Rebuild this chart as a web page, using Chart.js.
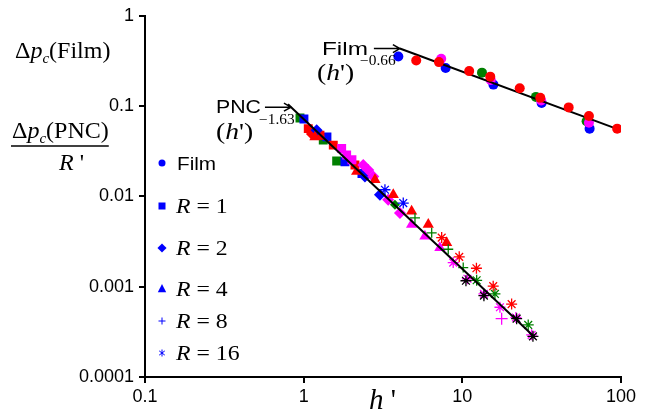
<!DOCTYPE html>
<html>
<head>
<meta charset="utf-8">
<style>
  html, body { margin: 0; padding: 0; background: #fff; }
  #wrap { width: 657px; height: 416px; position: relative; }
</style>
<script src="https://cdn.jsdelivr.net/npm/chart.js"></script>
</head>
<body>
<div id="wrap"><canvas id="chart"></canvas></div>
<script>
// axis ticks
const xTicks = [0.1, 1, 10, 100];
const yTicks = [0.0001, 0.001, 0.01, 0.1, 1];

// Film data, circles [h', dp]
const filmBlue = [[3.95, 0.354], [7.85, 0.264], [15.7, 0.173], [31.6, 0.108], [63.4, 0.0563]];
const filmRed = [[5.12, 0.320], [7.12, 0.307], [11.05, 0.244], [15.0, 0.212], [23.0, 0.1577], [31.0, 0.1234], [46.8, 0.0968], [62.8, 0.0777], [94.6, 0.0563]];
const filmMagenta = [[7.36, 0.334], [15.1, 0.1945], [31.4, 0.1155], [62.8, 0.0655]];
const filmGreen = [[13.3, 0.2346], [29.1, 0.1265], [60.7, 0.0679]];

// PNC data, R = 1 (squares)
const r1Green = [[0.948, 0.0738], [1.329, 0.0420], [1.614, 0.0247]];
const r1Blue = [[1.004, 0.0720], [1.402, 0.0456], [1.821, 0.0242], [2.33, 0.0179]];
const r1Red = [[1.069, 0.0563], [1.267, 0.0476], [1.537, 0.0370], [2.105, 0.0223]];
const r1Magenta = [[1.736, 0.0339], [1.866, 0.0287], [2.015, 0.0255]];

// R = 2 (diamonds)
const r2Red = [[1.128, 0.0492]];
const r2Blue = [[1.208, 0.0541], [2.434, 0.0166], [3.026, 0.01044]];
const r2Magenta = [[2.375, 0.0223], [2.553, 0.01965], [2.746, 0.0166], [3.41, 0.0092], [4.045, 0.00655]];
const r2Green = [[3.76, 0.0081]];

// R = 4 (triangles)
const r4Red = [[1.178, 0.0456], [2.158, 0.01882], [2.814, 0.01526], [3.67, 0.01044], [4.79, 0.00684], [6.10, 0.00489], [7.96, 0.00307]];
const r4Magenta = [[4.79, 0.00489], [5.81, 0.00363], [7.22, 0.0027]];

// R = 8 (plus)
const r8Green = [[5.03, 0.00577], [6.41, 0.00395], [8.15, 0.00260], [10.13, 0.00163]];
const r8Magenta = [[17.69, 0.000442]];

// R = 16 (stars)
const r16Blue = [[3.253, 0.01185], [4.243, 0.00844]];
const r16Red = [[7.41, 0.0035], [9.56, 0.00214], [12.27, 0.0016], [15.65, 0.001013], [20.45, 0.000642]];
const r16Magenta = [[8.76, 0.00185], [10.77, 0.001224], [13.68, 0.000831], [17.26, 0.000592], [21.77, 0.000456], [27.33, 0.000293]];
const r16Green = [[12.31, 0.001178], [16.05, 0.000831], [26.02, 0.000377]];
const r16Black = [[10.54, 0.001164], [13.68, 0.000796], [21.99, 0.000442], [27.86, 0.000282]];

// power-law fit lines (end points)
const filmFitH = [4.04, 94.2];
const filmFitP = [0.434, 0.0559];
const pncFitH = [0.796, 28.6];
const pncFitP = [0.105, 0.000275];

const legendItems = [
  ['circle', 'Film'],
  ['rect', '1'],
  ['rectRot', '2'],
  ['triangle', '4'],
  ['cross', '8'],
  ['star', '16']
];

const BLUE = '#0000ff', RED = '#ff0000', MAGENTA = '#ff00ff', GREEN = '#008000', BLACK = '#000000';
const SERIF = '"Liberation Serif", "Times New Roman", serif';
const SANS = '"Liberation Sans", Arial, sans-serif';

function pts(arr) {
  return arr.map(p => ({ x: p[0], y: p[1] }));
}

function markers(arr, style, color, r) {
  const line = style === 'cross' || style === 'star';
  return {
    data: pts(arr),
    pointStyle: style,
    pointRadius: r,
    backgroundColor: color,
    borderColor: color,
    pointBorderWidth: line ? 1.3 : 0,
    showLine: false
  };
}

function fitLine(hs, ps) {
  return {
    type: 'line',
    data: pts(hs.map((h, i) => [h, ps[i]])),
    borderColor: BLACK,
    borderWidth: 2,
    pointRadius: 0,
    showLine: true,
    fill: false
  };
}

const datasets = [
  fitLine(pncFitH, pncFitP),
  markers(r16Black, 'star', BLACK, 5.5),
  markers(r16Magenta, 'star', MAGENTA, 5.5),
  markers(r16Green, 'star', GREEN, 5.5),
  markers(r16Red, 'star', RED, 5.5),
  markers(r16Blue, 'star', BLUE, 5.5),
  markers(r8Magenta, 'cross', MAGENTA, 6),
  markers(r8Green, 'cross', GREEN, 5),
  markers(r4Magenta, 'triangle', MAGENTA, 6.5),
  markers(r4Red, 'triangle', RED, 6.5),
  markers(r2Magenta, 'rectRot', MAGENTA, 6),
  markers(r2Blue, 'rectRot', BLUE, 6),
  markers(r2Green, 'rectRot', GREEN, 5),
  markers(r2Red, 'rectRot', RED, 6),
  markers(r1Magenta, 'rect', MAGENTA, 6.3),
  markers(r1Red, 'rect', RED, 6.3),
  markers(r1Blue, 'rect', BLUE, 6.3),
  markers(r1Green, 'rect', GREEN, 6.3),
  markers(filmRed, 'circle', RED, 5),
  fitLine(filmFitH, filmFitP),
  markers(filmMagenta, 'circle', MAGENTA, 5),
  markers(filmGreen, 'circle', GREEN, 5),
  markers(filmBlue, 'circle', BLUE, 5)
];

// write text pieces one after another: [text, font, dy], sx = horizontal stretch
function runs(ctx, x, y, parts, sx) {
  sx = sx || 1;
  for (const [t, f, dy] of parts) {
    ctx.font = f;
    ctx.save();
    ctx.translate(x, y + (dy || 0));
    ctx.scale(sx, 1);
    ctx.fillText(t, 0, 0);
    ctx.restore();
    x += ctx.measureText(t).width * sx;
  }
  return x;
}

function drawMarker(ctx, style, x, y, r, color) {
  ctx.save();
  ctx.fillStyle = color;
  ctx.strokeStyle = color;
  ctx.lineWidth = 1;
  ctx.beginPath();
  if (style === 'circle') {
    ctx.arc(x, y, r, 0, Math.PI * 2);
    ctx.fill();
  } else if (style === 'rect') {
    ctx.fillRect(x - r, y - r, 2 * r, 2 * r);
  } else if (style === 'rectRot') {
    ctx.moveTo(x, y - r * 1.3); ctx.lineTo(x + r * 1.3, y);
    ctx.lineTo(x, y + r * 1.3); ctx.lineTo(x - r * 1.3, y);
    ctx.closePath(); ctx.fill();
  } else if (style === 'triangle') {
    ctx.moveTo(x, y - r * 1.4); ctx.lineTo(x + r * 1.2, y + r * 0.9);
    ctx.lineTo(x - r * 1.2, y + r * 0.9);
    ctx.closePath(); ctx.fill();
  } else if (style === 'cross') {
    ctx.moveTo(x - r, y); ctx.lineTo(x + r, y);
    ctx.moveTo(x, y - r); ctx.lineTo(x, y + r);
    ctx.stroke();
  } else if (style === 'star') {
    ctx.moveTo(x, y - r); ctx.lineTo(x, y + r);
    ctx.moveTo(x - r * 0.8, y - r * 0.6); ctx.lineTo(x + r * 0.8, y + r * 0.6);
    ctx.moveTo(x + r * 0.8, y - r * 0.6); ctx.lineTo(x - r * 0.8, y + r * 0.6);
    ctx.stroke();
  }
  ctx.restore();
}

function arrow(ctx, x1, y1, x2, y2) {
  ctx.beginPath();
  ctx.moveTo(x1, y1);
  ctx.lineTo(x2, y2);
  ctx.moveTo(x2 - 7, y2 - 4);
  ctx.lineTo(x2, y2);
  ctx.lineTo(x2 - 7, y2 + 4);
  ctx.stroke();
}

const textPlugin = {
  id: 'texts',
  afterDraw(chart) {
    const ctx = chart.ctx;
    const xs = chart.scales.x, ys = chart.scales.y;
    ctx.save();
    ctx.fillStyle = '#000';
    ctx.strokeStyle = '#000';
    ctx.lineWidth = 1.5;
    ctx.textBaseline = 'alphabetic';
    ctx.textAlign = 'left';

    const it = s => 'italic ' + s + 'px ' + SERIF;
    const rm = s => s + 'px ' + SERIF;
    const sans = s => s + 'px ' + SANS;

    // y axis title
    runs(ctx, 15, 58, [['\u0394', rm(24)], ['p', it(24)], ['c', it(15), 5], ['(Film)', rm(24)]]);
    const end = runs(ctx, 12, 138, [['\u0394', rm(24)], ['p', it(24)], ['c', it(15), 5], ['(PNC)', rm(24)]]);
    ctx.beginPath();
    ctx.moveTo(11, 146);
    ctx.lineTo(end, 146);
    ctx.stroke();
    runs(ctx, 59, 170, [['R', it(24)], [" '", rm(24)]]);

    // x axis title
    runs(ctx, 369, 409, [['h', it(29)], [" '", rm(29)]]);

    // Film annotation
    const fx = xs.getPixelForValue(filmFitH[0]);
    const fy = ys.getPixelForValue(filmFitP[0]);
    runs(ctx, 322, 55, [['Film', sans(19)]], 1.28);
    arrow(ctx, fx - 26, fy, fx, fy);
    runs(ctx, 317, 80, [['(', rm(24)], ['h', it(24)], ["')", rm(24)]], 1.15);
    runs(ctx, 360, 65, [['\u22120.66', rm(14)]], 1.1);

    // PNC annotation
    const px = xs.getPixelForValue(pncFitH[0]);
    const py = ys.getPixelForValue(pncFitP[0]);
    runs(ctx, 216, 113, [['PNC', sans(19)]], 1.12);
    arrow(ctx, px - 23, py + 3, px + 3, py + 3);
    runs(ctx, 216, 139, [['(', rm(24)], ['h', it(24)], ["')", rm(24)]], 1.15);
    runs(ctx, 259, 124, [['\u22121.63', rm(14)]], 1.1);

    // legend
    const ly = [163, 206, 248, 289, 321, 353];
    legendItems.forEach(([style, label], i) => {
      drawMarker(ctx, style, 162, ly[i], 3.5, BLUE);
      if (i === 0) {
        runs(ctx, 177, ly[i] + 7, [[label, sans(18)]], 1.15);
      } else {
        runs(ctx, 176, ly[i] + 7, [['R', it(22)], [' = ' + label, rm(22)]], 1.08);
      }
    });
    ctx.restore();
  }
};

new Chart(document.getElementById('chart'), {
  type: 'scatter',
  data: { datasets: datasets },
  options: {
    responsive: true,
    maintainAspectRatio: false,
    animation: false,
    layout: { padding: { top: 13, right: 36, left: 0, bottom: 0 } },
    plugins: { legend: { display: false }, tooltip: { enabled: false } },
    scales: {
      x: {
        type: 'logarithmic',
        min: 0.1,
        max: 100,
        afterBuildTicks: s => { s.ticks = xTicks.map(v => ({ value: v })); },
        afterFit: s => { s.height = 39; },
        ticks: { autoSkip: false, maxRotation: 0, color: '#000', font: { family: SANS, size: 18 }, padding: 3, callback: v => String(v) },
        grid: { drawOnChartArea: false, tickLength: 6, color: '#000', lineWidth: 2 },
        border: { color: '#000', width: 2 }
      },
      y: {
        type: 'logarithmic',
        min: 0.0001,
        max: 1,
        afterBuildTicks: s => { s.ticks = yTicks.map(v => ({ value: v })); },
        afterFit: s => { s.width = 145; },
        ticks: { autoSkip: false, color: '#000', font: { family: SANS, size: 18 }, padding: 5, callback: v => String(v) },
        grid: { drawOnChartArea: false, tickLength: 6, color: '#000', lineWidth: 2 },
        border: { color: '#000', width: 2 }
      }
    }
  },
  plugins: [textPlugin]
});
</script>
</body>
</html>
